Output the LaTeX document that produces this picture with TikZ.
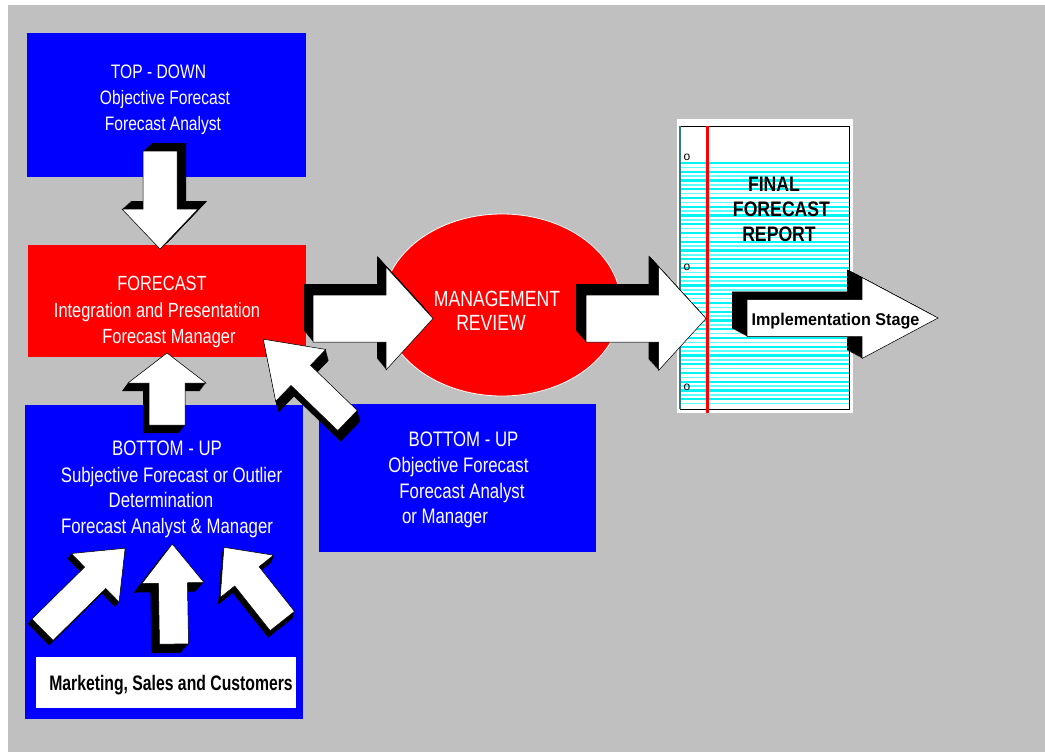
\documentclass[tikz,border=0pt]{standalone}
\usepackage{fontspec}
\usetikzlibrary{shapes.geometric}
\setmainfont{Liberation Sans}
\newfontfamily\narrowsans{Liberation Sans}[FakeStretch=0.8]
\newfontfamily\narrowbold{Liberation Sans}[FakeStretch=0.75]
\newfontfamily\reportbold{Liberation Sans}[FakeStretch=0.84]
\newfontfamily\stagebold{Liberation Sans}[FakeStretch=0.95]
\newcommand\setfs[1]{\fontsize{#1}{#1}\selectfont}

\definecolor{panelgray}{HTML}{C0C0C0}
\definecolor{pureblue}{HTML}{0000FF}
\definecolor{purered}{HTML}{FF0000}
\definecolor{ruleline}{HTML}{00F4F4}
\definecolor{rulelight}{HTML}{5CFFFF}
\definecolor{pageedge}{HTML}{2F7F7F}

% a white shape with a solid black extrusion behind it
% #1 placement options, #2/#3 extrusion offset, #4 outline path
\newcommand\extruded[4]{%
  \foreach \k in {0,...,18}{%
    \fill[black, shift={({\k/18*(#2)},{\k/18*(#3)})}, #1] #4;}%
  \filldraw[fill=white, draw=black, line width=0.5pt, #1] #4;%
}
% block arrow: #1,#2 tail centre, #3 direction, #4 length,
% #5 shaft half width, #6 head half width, #7 head length, #8/#9 extrusion
\newcommand\blockarrow[9]{%
  \extruded{shift={(#1,#2)}, rotate=#3}{#8}{#9}%
    {(0,-#5) -- ({#4-#7},-#5) -- ({#4-#7},-#6) -- (#4,0) -- ({#4-#7},#6) -- ({#4-#7},#5) -- (0,#5) -- cycle}%
}

\tikzset{
  box/.style={anchor=north west, inner sep=0, outer sep=0, draw=none},
  bluebox/.style={box, fill=pureblue},
  redbox/.style={box, fill=purered},
  wlabel/.style={anchor=base, inner sep=0, text=white},
  blabel/.style={anchor=base, inner sep=0, text=black},
  hole/.style={inner sep=0, font=\setfs{12}},
}

\begin{document}
\begin{tikzpicture}[x=1pt,y=-1pt]
\useasboundingbox (0,0) rectangle (1045,752);
\fill[white] (0,0) rectangle (1045,752);
\fill[panelgray] (8,5) rectangle (1045,752);

% boxes
\node[bluebox, minimum width=279, minimum height=144] (topdown) at (27,33) {};
\node[redbox, minimum width=278, minimum height=112] (forecast) at (28,245) {};
\node[bluebox, minimum width=278, minimum height=314] (bottomleft) at (25,405) {};
\node[bluebox, minimum width=277, minimum height=148] (bottomright) at (319,404) {};
\node[box, fill=white, minimum width=260, minimum height=51] (sources) at (36,657) {};

% management review
\node[ellipse, fill=purered, draw=white, line width=0.8pt, inner sep=0,
      minimum width=238, minimum height=182] (review) at (502,305) {};

% ruled report page
\node[box, fill=white, minimum width=176, minimum height=294] (page) at (677,119) {};
\foreach \k in {0,...,27}{%
  \draw[ruleline, line width=2.2pt] (680,{163+\k*8.75}) -- (849,{163+\k*8.75});
  \draw[rulelight, line width=1.5pt] (680,{167.4+\k*8.75}) -- (849,{167.4+\k*8.75});
}
\draw[black, line width=0.8pt] (680,126) rectangle (849,409);
\draw[pageedge, line width=1.6pt] (680,126) -- (680,409);
\draw[purered, line width=2.5pt] (707.7,126) -- (707.7,413);
\node[hole] (hole1) at (687,157) {o};
\node[hole] (hole2) at (687,267) {o};
\node[hole] (hole3) at (687,387) {o};

% texts
\begin{scope}[font=\narrowsans\setfs{19.5}]
\node[wlabel] (td1) at (158.5,78) {TOP - DOWN};
\node[wlabel] (td2) at (165,105) {Objective Forecast};
\node[wlabel] (td3) at (163,130) {Forecast Analyst};
\end{scope}
\begin{scope}[font=\narrowsans\setfs{20.5}]
\node[wlabel] (fc1) at (162,290.7) {FORECAST};
\node[wlabel] (fc2) at (157,317) {Integration and Presentation};
\node[wlabel] (fc3) at (169,343) {Forecast Manager};
\end{scope}
\begin{scope}[font=\narrowsans\setfs{21}]
\node[wlabel] (bl1) at (167,455.5) {BOTTOM - UP};
\node[wlabel] (bl2) at (171.5,482.5) {Subjective Forecast or Outlier};
\node[wlabel] (bl3) at (161,507.5) {Determination};
\node[wlabel] (bl4) at (167,533.5) {Forecast Analyst \& Manager};
\node[wlabel] (br1) at (463.5,446.7) {BOTTOM - UP};
\node[wlabel] (br2) at (458.5,472.7) {Objective Forecast};
\node[wlabel] (br3) at (462,498) {Forecast Analyst};
\node[wlabel] (br4) at (445,523) {or Manager};
\end{scope}
\begin{scope}[font=\narrowsans\setfs{22}]
\node[wlabel] (mr1) at (497,306) {MANAGEMENT};
\node[wlabel] (mr2) at (491,330.7) {REVIEW};
\end{scope}
\begin{scope}[font=\reportbold\bfseries\setfs{21}]
\node[blabel] (rp1) at (774,191.7) {FINAL};
\node[blabel] (rp2) at (781.5,216.7) {FORECAST};
\node[blabel] (rp3) at (779,241.7) {REPORT};
\end{scope}
\node[blabel, font=\narrowbold\bfseries\setfs{21}] (src) at (171,690.7) {Marketing, Sales and Customers};

% arrows
\blockarrow{160}{151}{-90}{98}{17}{38}{40}{9}{-8}
\blockarrow{167}{425}{90}{72}{18}{39}{30}{-6}{8}
\blockarrow{42.5}{629.7}{44.6}{116}{15}{34}{42}{-4}{5}
\blockarrow{174}{644}{91}{100}{14.5}{31}{39}{-8}{9}
\blockarrow{282.3}{621}{128.4}{94}{15.5}{34}{37}{-2}{7}
\blockarrow{313}{318.5}{0}{120}{23.5}{51.5}{47}{-9}{-11}
\blockarrow{347.5}{420.5}{136}{117}{14}{36}{52}{3}{11}
\blockarrow{586}{318.5}{0}{120}{23.5}{52}{47.5}{-10}{-11}
\blockarrow{747}{318}{0}{191}{18.5}{40.5}{76}{-15}{-8}
\node[blabel, font=\stagebold\bfseries\setfs{17}] (stage) at (835.5,325) {Implementation Stage};
\end{tikzpicture}
\end{document}
